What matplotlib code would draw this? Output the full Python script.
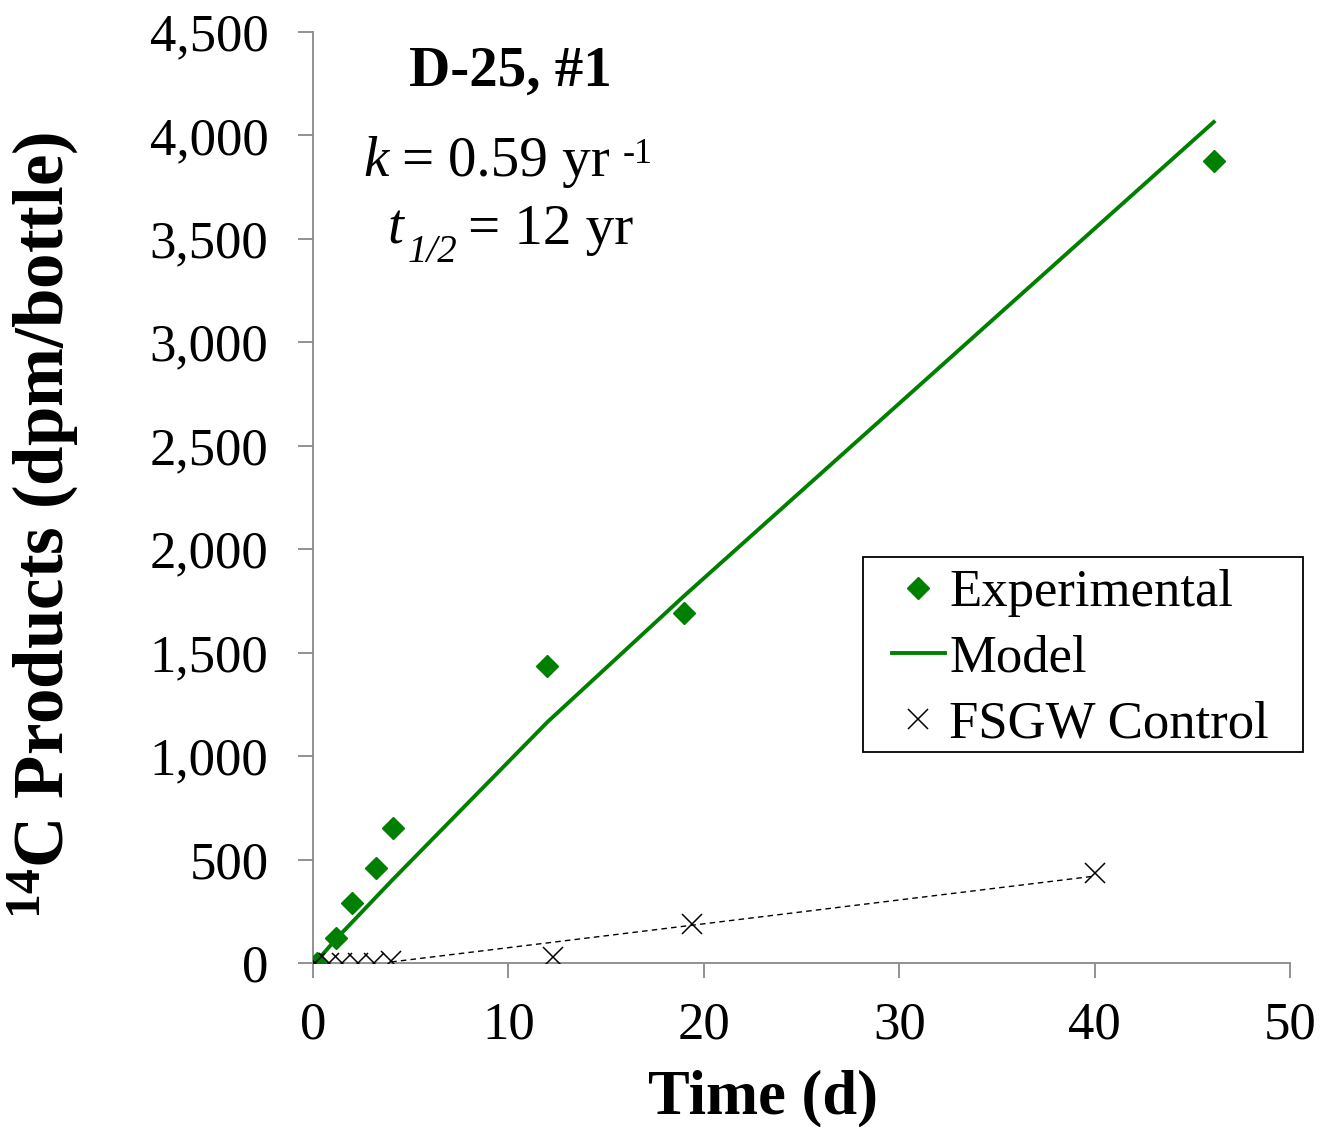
import numpy as np
import matplotlib
matplotlib.use("Agg")
import matplotlib.pyplot as plt
from matplotlib.ticker import FuncFormatter
from matplotlib.patches import Rectangle

plt.rcParams['font.family'] = ['Liberation Serif', 'DejaVu Serif']
plt.rcParams['mathtext.fontset'] = 'custom'
plt.rcParams['mathtext.rm'] = 'Liberation Serif'
plt.rcParams['mathtext.it'] = 'Liberation Serif:italic'
plt.rcParams['mathtext.bf'] = 'Liberation Serif:bold'

# incubation D-25, bottle #1
exp_days = [0.2, 1.2, 2.0, 3.2, 4.1, 12.0, 19.0, 46.1]
exp_dpm = [0, 121, 290, 459, 652, 1435, 1692, 3876]

model_days = [0.2, 1.2, 2.0, 3.2, 4.1, 12.0, 19.0, 46.1]
model_dpm = [10, 118, 197, 316, 405, 1165, 1775, 4065]

ctrl_days = [0.1, 0.8, 1.5, 2.3, 3.1, 4.0, 12.3, 19.4, 40.0]
ctrl_dpm = [0, 0, 0, 0, 0, 8, 29, 188, 435]

# linear trend through the control bottle
ctrl_trend_days = [4.0, 40.0]
ctrl_trend_dpm = [5, 420]

green = '#008000'
spine_gray = '#898989'

W, H = 1324, 1127
fig = plt.figure(figsize=(W / 100, H / 100), dpi=100)
ax = fig.add_axes([313 / W, 1 - 963 / H, 977 / W, 931 / H])

ax.plot(exp_days, exp_dpm, linestyle='none', marker='D', markersize=11,
        color=green, label='Experimental', zorder=4)
ax.plot(model_days, model_dpm, '-', color=green, linewidth=2.8,
        label='Model', zorder=3)
ax.plot(ctrl_days, ctrl_dpm, linestyle='none', marker='x', markersize=15,
        markeredgewidth=1.1, color='black', label='FSGW Control', zorder=5)
ax.plot(ctrl_trend_days, ctrl_trend_dpm, '--', color='black', linewidth=1.0,
        dashes=(4, 3), zorder=2)

ax.set_xlim(0, 50)
ax.set_ylim(0, 4500)
ax.set_xticks(np.arange(0, 51, 10))
ax.set_yticks(np.arange(0, 4501, 500))
ax.yaxis.set_major_formatter(FuncFormatter(lambda v, p: f'{v:,.0f}'))

for side in ['top', 'right']:
    ax.spines[side].set_visible(False)
for side in ['left', 'bottom']:
    ax.spines[side].set_color(spine_gray)
    ax.spines[side].set_linewidth(1.3)
ax.tick_params(axis='both', direction='out', length=11, width=1.3,
               color=spine_gray, labelsize=38, labelcolor='black')
ax.tick_params(axis='y', pad=21)
ax.tick_params(axis='x', pad=17)

ax.set_xlabel('Time (d)', fontsize=45, fontweight='bold', va='top')
ax.xaxis.set_label_coords((763 - 313) / 977, (963 - 1069) / 931)
ax.set_ylabel(r'$^{\mathbf{14}}$C Products (dpm/bottle)', fontsize=51,
              fontweight='bold')
ax.yaxis.set_label_coords((80 - 313) / 977, (963 - 525) / 931)

# legend entries without frame, box drawn separately
leg = ax.legend(loc='upper left', bbox_to_anchor=(892 / W, 1 - 569 / H),
                bbox_transform=fig.transFigure, fontsize=38, frameon=False,
                handlelength=1.0, handletextpad=0.08, labelspacing=0.34,
                borderpad=0, borderaxespad=0)
fig.patches.append(Rectangle((863 / W, 1 - 752 / H), 440 / W, 195 / H,
                             transform=fig.transFigure, fill=False,
                             edgecolor='black', linewidth=1.3))

renderer = fig.canvas.get_renderer()


def text_line(runs, cx, base_y):
    """Lay out text runs side by side, centred at cx on baseline base_y (px from top)."""
    arts = []
    for s, kw, gap, dy in runs:
        t = fig.text(0, 0, s, va='baseline', ha='left', **kw)
        arts.append((t, gap, dy, t.get_window_extent(renderer).width))
    total = sum(gap + w for _, gap, _, w in arts)
    x = cx - total / 2
    for t, gap, dy, w in arts:
        x += gap
        t.set_position((x / W, (H - base_y + dy) / H))
        x += w


text_line([('D-25, #1', dict(fontsize=41, fontweight='bold'), 0, 0)],
          510, 86)
text_line([('k', dict(fontsize=41, style='italic'), 0, 0),
           ('=', dict(fontsize=41), 12, 0),
           ('0.59 yr', dict(fontsize=41), 15, 0),
           ('-1', dict(fontsize=26), 13, 13)],
          508, 176)
text_line([('t', dict(fontsize=41, style='italic'), 0, 0),
           ('1/2', dict(fontsize=28, style='italic'), 5, -18),
           ('= 12 yr', dict(fontsize=41), 10, 0)],
          510, 244)

fig.savefig('out.png', dpi=100)
